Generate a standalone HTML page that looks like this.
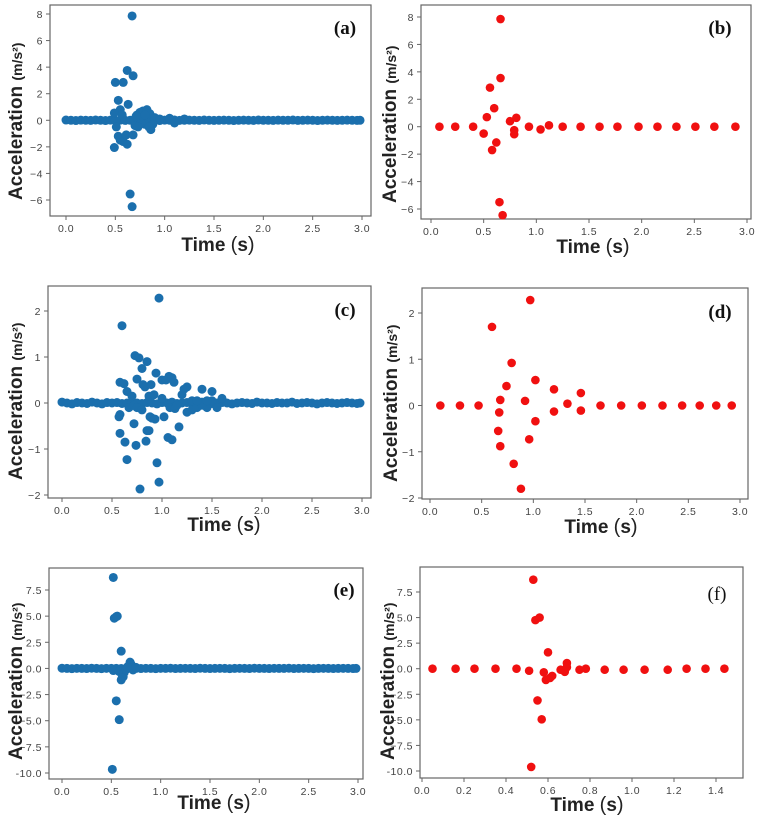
<!DOCTYPE html>
<html><head><meta charset="utf-8"><style>
html,body{margin:0;padding:0;background:#fff;}
svg{display:block;}
.tk{font-family:"Liberation Sans",sans-serif;font-size:10.5px;fill:#444;letter-spacing:0.5px;}
.tt{font-family:"Liberation Sans",sans-serif;font-weight:bold;fill:#222;}
.pl{font-family:"Liberation Serif",serif;font-size:19px;fill:#111;}
</style></head><body>
<svg id="fig" width="757" height="817" viewBox="0 0 757 817"></svg>
<script>
// ---- data ----
const baseTimes=[0,0.05,0.1,0.15,0.2,0.25,0.3,0.35,0.4,0.45,0.5,0.55,0.6,0.65,0.7,0.75,0.8,0.85,0.9,0.95,1,1.05,1.1,1.15,1.2,1.25,1.3,1.35,1.4,1.45,1.5,1.55,1.6,1.65,1.7,1.75,1.8,1.85,1.9,1.95,2,2.05,2.1,2.15,2.2,2.25,2.3,2.35,2.4,2.45,2.5,2.55,2.6,2.65,2.7,2.75,2.8,2.85,2.9,2.95,2.98];
const baseVals=[0.02,0,-0.02,0.01,0,-0.01,0.02,0,-0.02,0.01,0,0.01,-0.01,0,0.02,0,-0.01,0.01,0,-0.02,0.01,0,0.02,-0.01,0,0.01,0,-0.01,0.02,0,-0.01,0,0.01,0,-0.02,0,0.01,0,-0.01,0.02,0,0,-0.01,0.01,0,0,0.02,-0.01,0,0.01,0,-0.02,0,0.01,0,-0.01,0,0.01,0,-0.01,0];
const aT=[0.67,0.62,0.68,0.50,0.58,0.53,0.63,0.55,0.49,0.57,0.51,0.53,0.55,0.58,0.61,0.62,0.49,0.68,0.65,0.67,0.70,0.72,0.75,0.78,0.82,0.85,0.86,0.80,0.76,0.74,0.90,0.95,1.05,1.10,1.20,0.73,0.80,0.88,0.71,0.84];
const aV=[7.85,3.75,3.35,2.85,2.85,1.5,1.2,0.8,0.55,0.4,-0.5,-1.2,-1.5,-1.6,-1.1,-1.8,-2.05,-1.1,-5.55,-6.5,-0.4,0.4,0.6,0.7,0.8,0.5,-0.7,-0.3,-0.2,0.2,0.2,0.1,0.15,-0.2,0.1,-0.5,0.4,-0.3,0.3,-0.5];
const bT=[0.08,0.23,0.40,0.50,0.53,0.56,0.58,0.60,0.62,0.66,0.66,0.65,0.68,0.75,0.79,0.79,0.81,0.93,1.04,1.12,1.25,1.42,1.60,1.77,1.97,2.15,2.33,2.51,2.69,2.89];
const bV=[0,0,0,-0.5,0.7,2.85,-1.7,1.35,-1.15,7.85,3.55,-5.5,-6.45,0.4,-0.25,-0.55,0.65,0,-0.2,0.1,0,0,0,0,0,0,0,0,0,0];
const cT=[0.97,0.60,0.73,0.77,0.85,0.80,0.94,1.07,0.58,0.62,0.75,0.81,0.83,0.89,1.0,1.04,1.1,1.12,1.25,1.22,1.4,1.5,0.65,0.7,0.87,0.92,1.2,0.67,0.72,0.75,0.58,0.57,0.8,0.88,0.9,0.93,1.0,1.02,1.08,1.13,1.15,1.25,1.3,1.35,1.45,0.58,0.72,0.85,0.87,0.63,0.74,0.84,1.06,1.1,1.17,0.65,0.95,0.78,0.97,1.3,1.4,1.5,1.55,1.6,1.35,1.45];
const cV=[2.28,1.68,1.03,0.98,0.9,0.75,0.65,0.58,0.45,0.42,0.52,0.4,0.35,0.4,0.5,0.5,0.55,0.45,0.35,0.3,0.3,0.25,0.25,0.15,0.15,0.18,0.18,-0.1,-0.05,-0.1,-0.25,-0.3,-0.15,-0.3,-0.33,-0.35,0.1,-0.3,-0.1,-0.12,-0.05,-0.2,-0.15,-0.1,-0.1,-0.66,-0.45,-0.6,-0.6,-0.85,-0.92,-0.83,-0.75,-0.8,-0.52,-1.23,-1.3,-1.87,-1.72,0.05,-0.05,0.05,-0.1,0.1,0.05,0.05];
const dT=[0.1,0.29,0.47,0.6,0.66,0.67,0.68,0.68,0.74,0.79,0.81,0.88,0.92,0.96,0.97,1.02,1.02,1.2,1.2,1.33,1.46,1.46,1.65,1.85,2.05,2.25,2.44,2.61,2.77,2.92];
const dV=[0,0,0,1.7,-0.55,-0.15,0.12,-0.88,0.42,0.92,-1.26,-1.8,0.1,-0.73,2.28,0.55,-0.34,0.35,-0.13,0.04,0.27,-0.11,0,0,0,0,0,0,0,0];
const eT=[0.52,0.53,0.55,0.56,0.60,0.52,0.58,0.60,0.62,0.63,0.65,0.67,0.69,0.70,0.72,0.72,0.75,0.55,0.58,0.51,0.61,0.66];
const eV=[8.7,4.8,4.95,5.0,1.65,-0.2,-0.3,-1.1,-0.8,-0.4,-0.1,0.2,0.6,0.4,0.1,-0.15,0.1,-3.1,-4.9,-9.65,-0.9,0.1];
const fT=[0.05,0.16,0.25,0.35,0.45,0.51,0.52,0.53,0.54,0.55,0.56,0.57,0.58,0.59,0.6,0.61,0.62,0.66,0.68,0.69,0.69,0.75,0.78,0.87,0.96,1.06,1.17,1.26,1.35,1.44];
const fV=[0,0,0,0,0,-0.2,-9.6,8.7,4.75,-3.1,5.0,-4.95,-0.35,-1.1,1.6,-0.9,-0.7,-0.1,-0.3,0.55,0.15,-0.1,0,-0.1,-0.1,-0.1,-0.1,0,0,0];
const xTicks3=[0,0.5,1,1.5,2,2.5,3];
const xLabels3=["0.0","0.5","1.0","1.5","2.0","2.5","3.0"];
const xTicksF=[0,0.2,0.4,0.6,0.8,1.0,1.2,1.4];
const xLabelsF=["0.0","0.2","0.4","0.6","0.8","1.0","1.2","1.4"];
const yTicksAB=[-6,-4,-2,0,2,4,6,8];
const yLabelsAB=["−6","−4","−2","0","2","4","6","8"];
const yTicksCD=[-2,-1,0,1,2];
const yLabelsCD=["−2","−1","0","1","2"];
const yTicksEF=[-10,-7.5,-5,-2.5,0,2.5,5,7.5];
const yLabelsEF=["-10.0","−7.5","−5.0","−2.5","0.0","2.5","5.0","7.5"];

const NS="http://www.w3.org/2000/svg";
const svg=document.getElementById('fig');
function mk(tag,attrs,parent){const e=document.createElementNS(NS,tag);for(const k in attrs)e.setAttribute(k,attrs[k]);(parent||svg).appendChild(e);return e;}

const BLUE="#1b6fad", RED="#f01010";
const panels=[
 {id:'a',box:[50,5,371,216],xs:[66,362,0,3],ys:[14,200,8,-6],xt:xTicks3,xl:xLabels3,yt:yTicksAB,yl:yLabelsAB,T:aT,V:aV,base:true,col:BLUE,r:4.5,lab:[345,34],bold:true,yt0:[22,200],time:[218,251]},
 {id:'b',box:[421,5,751,219],xs:[431,747,0,3],ys:[17,209,8,-6],xt:xTicks3,xl:xLabels3,yt:yTicksAB,yl:yLabelsAB,T:bT,V:bV,base:false,col:RED,r:4.3,lab:[720,34],bold:true,yt0:[396,203],time:[593,253]},
 {id:'c',box:[48,286,371,498],xs:[62,362,0,3],ys:[311,495,2,-2],xt:xTicks3,xl:xLabels3,yt:yTicksCD,yl:yLabelsCD,T:cT,V:cV,base:true,col:BLUE,r:4.5,lab:[345,316],bold:true,yt0:[22,480],time:[224,531]},
 {id:'d',box:[422,288,748,499],xs:[430,740,0,3],ys:[313,498,2,-2],xt:xTicks3,xl:xLabels3,yt:yTicksCD,yl:yLabelsCD,T:dT,V:dV,base:false,col:RED,r:4.3,lab:[720,318],bold:true,yt0:[397,482],time:[601,533]},
 {id:'e',box:[49,568,363,779],xs:[62,358,0,3],ys:[590,773,7.5,-10],xt:xTicks3,xl:xLabels3,yt:yTicksEF,yl:yLabelsEF,T:eT,V:eV,base:true,col:BLUE,r:4.5,lab:[344,596],bold:true,yt0:[22,760],time:[214,809]},
 {id:'f',box:[420,567,743,778],xs:[422,716,0,1.4],ys:[592,771,7.5,-10],xt:xTicksF,xl:xLabelsF,yt:yTicksEF,yl:yLabelsEF,T:fT,V:fV,base:false,col:RED,r:4.3,lab:[717,600],bold:false,yt0:[394,760],time:[587,811]}
];

panels.forEach(p=>{
  const g=mk('g',{});
  
  
  const X=v=>p.xs[0]+(v-p.xs[2])*(p.xs[1]-p.xs[0])/(p.xs[3]-p.xs[2]);
  const Y=v=>p.ys[0]+(v-p.ys[2])*(p.ys[1]-p.ys[0])/(p.ys[3]-p.ys[2]);
  const [l,t,r,b]=p.box;
  const fr=mk('rect',{x:l,y:t,width:r-l,height:b-t,fill:'#fff',stroke:'#666','stroke-width':1.2},g);
  
  
  p.xt.forEach((v,i)=>{
    mk('line',{x1:X(v),x2:X(v),y1:b,y2:b+4,stroke:'#666'},g);
    const tx=mk('text',{x:X(v),y:b+16,'text-anchor':'middle',class:'tk'},g);
    tx.textContent=p.xl[i];
    
    
  });
  p.yt.forEach((v,i)=>{
    mk('line',{x1:l-4,x2:l,y1:Y(v),y2:Y(v),stroke:'#666'},g);
    const tx=mk('text',{x:l-7,y:Y(v)+4,'text-anchor':'end',class:'tk'},g);
    tx.textContent=p.yl[i];
    
    
  });
  const pts=mk('g',{fill:p.col},g);
  
  
  if(p.base){
    baseTimes.forEach((tv,i)=>{
      const c=mk('circle',{cx:X(tv),cy:Y(baseVals[i]),r:p.r},pts);
      
      
    });
  }
  p.T.forEach((tv,i)=>{
    const c=mk('circle',{cx:X(tv),cy:Y(p.V[i]),r:p.r},pts);
    
    
  });
  const pl=mk('text',{x:p.lab[0],y:p.lab[1],'text-anchor':'middle',class:'pl','font-weight':p.bold?'bold':'normal'},g);
  pl.textContent='('+p.id+')';
  
  
  const xt=mk('text',{x:p.time[0],y:p.time[1],'text-anchor':'middle',class:'tt','font-size':19},g);
  xt.innerHTML='Time <tspan font-weight="normal" font-size="20">(</tspan>s<tspan font-weight="normal" font-size="20">)</tspan>';
  
  
  const yt=mk('text',{x:0,y:0,transform:`translate(${p.yt0[0]},${p.yt0[1]}) rotate(-90)`,class:'tt','font-size':19},g);
  yt.innerHTML='Acceleration <tspan font-size="14" font-weight="bold">(m/s²)</tspan>';
  
  
});
</script>
</body></html>
